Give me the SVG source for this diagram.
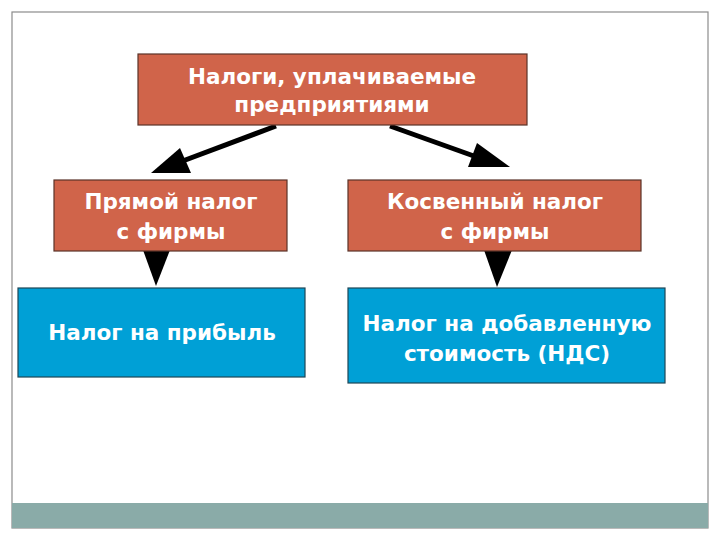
<svg xmlns="http://www.w3.org/2000/svg" width="720" height="540" viewBox="0 0 720 540">
<style>
.red{fill:#d0644a;stroke:#5a3328;stroke-width:1.2}
.blue{fill:#00a0d6;stroke:#1d4656;stroke-width:1.2}
.t{font-family:"DejaVu Sans",Verdana,sans-serif;font-weight:bold;font-size:21.5px;fill:#ffffff;text-anchor:middle}
.ln{stroke:#000;stroke-width:5;fill:none}
.hd{fill:#000}
</style>
<rect x="0" y="0" width="720" height="540" fill="#ffffff"/>
<rect x="12" y="12" width="696" height="516" fill="#ffffff" stroke="#8c8c8c" stroke-width="1.2"/>
<rect x="12" y="503" width="696" height="25" fill="#8aaba8"/>
<g id="connectors">
<line class="ln" x1="276" y1="126" x2="180" y2="162"/>
<polygon class="hd" points="151,173 180,148 191,173"/>
<line class="ln" x1="390" y1="126" x2="485" y2="160"/>
<polygon class="hd" points="510,167 477,143 468,167"/>
<polygon class="hd" points="143,250 170,250 156,286"/>
<polygon class="hd" points="484,250 512,250 497,287"/>
</g>
<g id="top">
<rect class="red" x="138" y="54" width="389" height="71"/>
<text class="t" x="332" y="84">Налоги, уплачиваемые</text>
<text class="t" x="332" y="112">предприятиями</text>
</g>
<g id="direct">
<rect class="red" x="54" y="180" width="233" height="71"/>
<text class="t" x="171" y="209">Прямой налог</text>
<text class="t" x="171" y="239">с фирмы</text>
</g>
<g id="indirect">
<rect class="red" x="348" y="180" width="293" height="71"/>
<text class="t" x="495" y="209">Косвенный налог</text>
<text class="t" x="495" y="239">с фирмы</text>
</g>
<g id="profit">
<rect class="blue" x="18" y="288" width="287" height="89"/>
<text class="t" x="162" y="340">Налог на прибыль</text>
</g>
<g id="vat">
<rect class="blue" x="348" y="288" width="317" height="95"/>
<text class="t" x="507" y="331">Налог на добавленную</text>
<text class="t" x="507" y="361">стоимость (НДС)</text>
</g>
</svg>
